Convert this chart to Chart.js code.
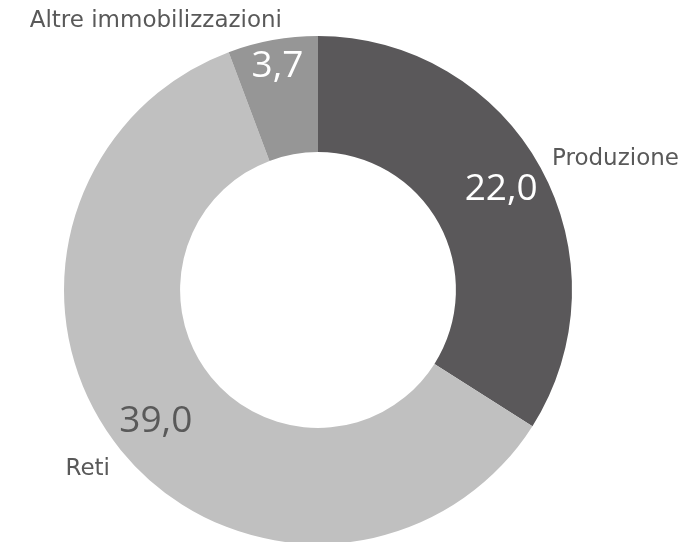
<!DOCTYPE html>
<html>
<head>
<meta charset="utf-8">
<script src="https://cdn.jsdelivr.net/npm/chart.js@4/dist/chart.umd.min.js"></script>
<style>
  html, body { margin: 0; padding: 0; background: #fff; overflow: hidden; }
  #wrap { width: 687px; height: 560px; }
</style>
</head>
<body>
<div id="wrap"><canvas id="pie" width="687" height="560"></canvas></div>
<script>
const categories = ["Produzione", "Reti", "Altre immobilizzazioni"];
const values = [22.0, 39.0, 3.7];
const valueLabels = ["22,0", "39,0", "3,7"];
const colors = ["#5a585a", "#c0c0c0", "#969696"];
const valueColors = ["#ffffff", "#595959", "#ffffff"];

// where the texts sit, relative to the doughnut centre (px) — layout only
const valueRadius = [209, 209, 227];
const catPos = [
  { dx: 234, dy: -125, align: "left" },
  { dx: -208, dy: 185, align: "right" },
  { dx: -36, dy: -263, align: "right" },
];

const labelPlugin = {
  id: "sliceLabels",
  afterDatasetsDraw(chart) {
    const c = chart.ctx;
    const arcs = chart.getDatasetMeta(0).data;
    c.save();
    arcs.forEach((arc, i) => {
      const mid = (arc.startAngle + arc.endAngle) / 2;
      const r = valueRadius[i];
      const x = arc.x + Math.cos(mid) * r;
      const y = arc.y + Math.sin(mid) * r;
      c.font = "37px 'Open Sans'";
      c.fillStyle = valueColors[i];
      c.textAlign = "center";
      c.textBaseline = "middle";
      c.fillText(valueLabels[i], x, y);

      c.font = "23px 'DejaVu Sans'";
      c.fillStyle = "#595959";
      c.textAlign = catPos[i].align;
      c.textBaseline = "alphabetic";
      c.fillText(categories[i], arc.x + catPos[i].dx, arc.y + catPos[i].dy);
    });
    c.restore();
  },
};

new Chart(document.getElementById("pie"), {
  type: "doughnut",
  data: {
    labels: categories,
    datasets: [
      {
        data: values,
        backgroundColor: colors,
        borderWidth: 0,
      },
    ],
  },
  options: {
    responsive: false,
    animation: false,
    cutout: "54.3%",
    layout: { padding: { left: 64, right: 115, top: 36, bottom: 16 } },
    plugins: {
      legend: { display: false },
      tooltip: { enabled: false },
    },
  },
  plugins: [labelPlugin],
});
</script>
</body>
</html>
